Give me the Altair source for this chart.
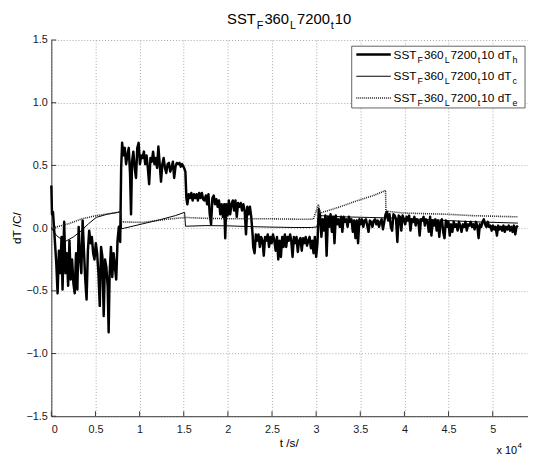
import altair as alt
import pandas as pd

# ---------------- data ----------------
# dT_h  (thick line)   t in seconds
H_T = [0, 75, 187, 336, 560, 709, 858, 1007, 1157, 1269,
       1455, 1604, 1754, 1903, 2052, 2201, 2351, 2500, 2649, 2798,
       2948, 3097, 3246, 3396, 3545, 3694, 3843, 3993, 4142, 4291,
       4440, 4590, 4739, 4888, 5037, 5187, 5336, 5485, 5634, 5784,
       5933, 6082, 6231, 6381, 6493, 6604, 6754, 6903, 7052, 7201,
       7351, 7500, 7649, 7799, 7910, 8022, 8172, 8321, 8470, 8619,
       8769, 8918, 9030, 9142, 9291, 9440, 9590, 9739, 9888, 10037,
       10187, 10336, 10485, 10634, 10784, 10933, 11082, 11231, 11381, 11530,
       11679, 11828, 11978, 12127, 12276, 12425, 12575, 12724, 12873, 13022,
       13172, 13321, 13470, 13619, 13769, 13918, 14067, 14216, 14366, 14515,
       14664, 14813, 15037, 15187, 15299, 15410, 15560, 15709, 15858, 16007,
       16157, 16306, 16455, 16604, 16754, 16903, 17052, 17201, 17351, 17500,
       17649, 17799, 17948, 18097, 18246, 18396, 18545, 18694, 18843, 18993,
       19142, 19291, 19440, 19590, 19701, 19813, 19963, 20112, 20261, 20410,
       20560, 20709, 20858, 21007, 21157, 21306, 21455, 21604, 21754, 21903,
       22052, 22201, 22351, 22500, 22649, 22799, 22873, 23022, 23172, 23321,
       23470, 23619, 23769, 23918, 24067, 24216, 24366, 24515, 24664, 24813,
       24963, 25112, 25261, 25410, 25560, 25709, 25858, 26007, 26157, 26306,
       26455, 26604, 26754, 26903, 27052, 27180, 27329, 27477, 27626, 27774,
       27922, 28071, 28219, 28368, 28516, 28664, 28813, 28961, 29110, 29258,
       29406, 29555, 29703, 29852, 30000, 30148, 30297, 30445, 30594, 30742,
       30890, 31039, 31187, 31336, 31484, 31632, 31781, 31929, 32078, 32226,
       32374, 32523, 32671, 32820, 32968, 33116, 33265, 33413, 33562, 33710,
       33858, 34007, 34155, 34304, 34452, 34600, 34749, 34897, 35046, 35194,
       35342, 35491, 35639, 35788, 35936, 36084, 36233, 36381, 36530, 36678,
       36826, 36975, 37123, 37272, 37420, 37568, 37717, 37865, 38014, 38162,
       38310, 38459, 38607, 38756, 38904, 39052, 39201, 39349, 39498, 39646,
       39794, 39943, 40091, 40240, 40388, 40536, 40685, 40833, 40982, 41130,
       41278, 41427, 41575, 41724, 41872, 42020, 42169, 42317, 42466, 42614,
       42762, 42911, 43059, 43208, 43356, 43504, 43653, 43801, 43950, 44098,
       44246, 44395, 44543, 44692, 44840, 44988, 45137, 45285, 45434, 45582,
       45730, 45879, 46027, 46176, 46324, 46472, 46621, 46769, 46918, 47066,
       47214, 47363, 47511, 47660, 47808, 47956, 48105, 48253, 48402, 48550,
       48698, 48847, 48995, 49144, 49292, 49440, 49589, 49737, 49886, 50034,
       50182, 50331, 50479, 50628, 50776, 50924, 51073, 51221, 51370, 51518,
       51666, 51815, 51963, 52112, 52260, 52408, 52557, 52705, 52854]
H_V = [0.34, 0.11, 0.13, -0.03, -0.28, -0.52, -0.18, -0.36, -0.07, -0.49,
       0.05, -0.36, -0.20, -0.46, -0.10, -0.41, -0.25, -0.44, -0.52, -0.20,
       -0.49, 0.01, -0.23, -0.36, 0.06, -0.18, -0.41, -0.57, -0.18, -0.02,
       -0.12, -0.07, -0.20, -0.25, -0.12, -0.20, -0.36, -0.62, -0.15, -0.23,
       -0.70, -0.25, -0.31, -0.46, -0.83, -0.36, -0.15, -0.39, -0.20, -0.31,
       -0.41, -0.10, 0.01, -0.11, 0.48, 0.68, 0.58, 0.64, 0.51, 0.58,
       0.64, 0.43, 0.11, 0.53, 0.61, 0.48, 0.40, 0.64, 0.68, 0.51,
       0.58, 0.56, 0.61, 0.51, 0.58, 0.48, 0.35, 0.56, 0.53, 0.61,
       0.51, 0.56, 0.48, 0.65, 0.51, 0.37, 0.51, 0.56, 0.48, 0.44,
       0.51, 0.52, 0.45, 0.48, 0.53, 0.40, 0.49, 0.52, 0.51, 0.52,
       0.49, 0.51, 0.48, 0.45, 0.24, 0.19, 0.27, 0.24, 0.28, 0.22,
       0.27, 0.24, 0.27, 0.22, 0.28, 0.24, 0.28, 0.23, 0.22, 0.26,
       0.19, 0.27, 0.11, 0.03, 0.24, 0.26, 0.19, 0.23, 0.17, 0.22,
       0.11, 0.19, 0.09, 0.19, -0.08, 0.19, 0.10, 0.22, 0.11, 0.19,
       0.22, 0.14, 0.22, 0.09, 0.20, 0.17, 0.20, 0.14, 0.19, 0.14,
       -0.05, 0.17, 0.11, 0.17, 0.09, -0.05, -0.15, -0.20, -0.05, -0.10,
       -0.05, -0.15, -0.07, -0.10, -0.22, -0.07, -0.10, -0.05, -0.15, -0.07,
       -0.12, -0.05, -0.10, -0.18, -0.07, -0.25, -0.10, -0.23, -0.07, -0.15,
       -0.05, -0.15, -0.07, -0.10, -0.05, -0.10, -0.23, -0.07, -0.12, -0.07,
       -0.19, -0.10, -0.08, -0.18, -0.08, -0.12, -0.07, -0.14, -0.10, -0.07,
       -0.16, -0.10, -0.20, -0.07, -0.23, -0.12, 0.15, 0.10, -0.07, 0.07,
       -0.02, 0.10, -0.22, 0.09, 0.01, 0.11, -0.03, 0.09, -0.12, 0.10,
       0.03, 0.07, 0.01, 0.09, -0.03, 0.09, 0.05, 0.07, 0.01, 0.09,
       0.05, 0.07, -0.03, 0.06, -0.08, 0.06, -0.12, 0.07, 0.03, 0.07,
       0.01, 0.06, 0.07, 0.02, -0.03, 0.06, 0.05, 0.01, 0.06, 0.07,
       0.03, 0.06, 0.01, 0.05, 0.07, -0.01, 0.05, 0.11, 0.13, 0.06,
       0.11, 0.01, -0.02, 0.11, 0.10, 0.07, -0.11, 0.10, 0.09, -0.02,
       0.10, 0.07, 0.03, 0.09, 0.06, 0.10, -0.02, 0.07, 0.05, 0.09,
       0.02, 0.07, 0.06, -0.06, 0.07, 0.06, 0.09, 0.02, 0.07, 0.05,
       -0.03, 0.09, -0.06, 0.06, 0.02, 0.07, -0.02, 0.06, -0.07, 0.05,
       0.07, -0.03, -0.08, 0.06, 0.01, 0.05, -0.06, 0.03, -0.03, 0.05,
       0.01, 0.03, -0.02, 0.05, 0.02, -0.03, 0.03, 0.01, 0.05, -0.02,
       0.03, 0.02, 0.05, 0.01, 0.03, -0.01, 0.05, 0.02, -0.08, 0.03,
       0.01, 0.05, 0.07, 0.03, 0.01, 0.05, 0.01, 0.02, -0.02, 0.02,
       -0.01, 0.01, -0.06, 0.02, -0.01, 0.01, -0.02, 0.02, -0.03, 0.01,
       -0.01, 0.02, -0.02, 0.01, -0.03, 0.02, -0.05, 0.01, 0.02]

# dT_c (thin solid line)
C_T = [0, 600, 1500, 2500, 3250, 4200, 5100, 6300, 7550, 7850,
       7950, 8300, 10336, 12200, 14067, 15100, 15200, 17500, 20000, 22500,
       25000, 27500, 29500, 30100, 30300, 33000, 36000, 39000, 42000, 45000,
       48000, 50500, 52854]
C_V = [0.0, -0.06, -0.11, -0.07, -0.03, 0.034, 0.086, 0.11, 0.126, 0.13,
       -0.005, 0.0, 0.034, 0.065, 0.10, 0.126, 0.015, 0.02, 0.018, 0.012,
       0.008, 0.005, 0.005, 0.01, 0.10, 0.09, 0.085, 0.08, 0.07, 0.06,
       0.05, 0.045, 0.04]

# dT_e (dotted line)
E_T = [0, 1970, 3460, 5130, 6500, 7550, 7850, 7950, 10300, 13000,
       15200, 17500, 20000, 22500, 25000, 27000, 29000, 29700, 30250, 30450,
       32500, 34500, 36500, 37865, 37900, 40000, 42500, 45000, 47500, 50000,
       52854]
E_V = [0.0, 0.035, 0.074, 0.10, 0.115, 0.126, 0.13, 0.05, 0.045, 0.07,
       0.085, 0.078, 0.075, 0.074, 0.074, 0.072, 0.07, 0.073, 0.19, 0.12,
       0.165, 0.215, 0.26, 0.30, 0.135, 0.12, 0.115, 0.11, 0.10, 0.095,
       0.09]

X_TICKS = [0, 5000, 10000, 15000, 20000, 25000, 30000, 35000, 40000, 45000, 50000]
Y_TICKS = [-1.5, -1.0, -0.5, 0.0, 0.5, 1.0, 1.5]

TITLE_PIECES = [("SST", 0), ("F", 1), ("360", 0), ("L", 1), ("7200", 0), ("t", 1), ("10", 0)]
LEGEND_SUBS = ["h", "c", "e"]
X_TITLE = "t /s/"
Y_TITLE = "dT /C/"

# ---------------- layout / style ----------------
FONT = "Liberation Sans"
W, H = 484, 382
X_MAX = 54000
AXC = "#3a3a3a"

ARIAL = {'S': .667, 'T': .611, 'F': .611, 'L': .556, ' ': .278, 'd': .556,
         'h': .556, 'c': .5, 'e': .556, 't': .278, 'x': .5}
for _d in "0123456789":
    ARIAL[_d] = .556


def tw(s, size):
    return sum(ARIAL.get(ch, .556) for ch in s) * size


one = pd.DataFrame({"k": [0]})
xs = alt.Scale(domain=[0, X_MAX], nice=False, zero=False)
ys = alt.Scale(domain=[-1.5, 1.5], nice=False, zero=False)

x_axis = alt.Axis(values=X_TICKS, labelExpr="'' + datum.value / 10000", grid=True,
                  gridDash=[1, 2], gridColor="#a8a8a8", gridWidth=1,
                  domainColor=AXC, ticks=False, labelFont=FONT, labelFontSize=11,
                  labelColor="#1a1a1a", labelPadding=8, title=None)
y_axis = alt.Axis(values=Y_TICKS, grid=True, gridDash=[1, 2], gridColor="#a8a8a8",
                  gridWidth=1, domainColor=AXC, ticks=False, labelFont=FONT,
                  labelFontSize=11, labelColor="#1a1a1a", labelPadding=4, title=None)

dfh = pd.DataFrame({"t": H_T, "v": H_V})
dfc = pd.DataFrame({"t": C_T, "v": C_V})
dfe = pd.DataFrame({"t": E_T, "v": E_V})

layers = []
layers.append(alt.Chart(dfh).mark_line(color="black", strokeWidth=2.5, strokeJoin="round").encode(
    x=alt.X("t:Q", scale=xs, axis=x_axis), y=alt.Y("v:Q", scale=ys, axis=y_axis)))
layers.append(alt.Chart(dfc).mark_line(color="black", strokeWidth=1).encode(
    x=alt.X("t:Q", scale=xs), y=alt.Y("v:Q", scale=ys)))
layers.append(alt.Chart(dfe).mark_line(color="#222222", strokeWidth=1.6, strokeDash=[1, 1]).encode(
    x=alt.X("t:Q", scale=xs), y=alt.Y("v:Q", scale=ys)))

# inward ticks (MATLAB style)
layers.append(alt.Chart(pd.DataFrame({"t": X_TICKS})).mark_rule(color=AXC, strokeWidth=1).encode(
    x=alt.X("t:Q", scale=xs), y=alt.value(H), y2=alt.value(H - 5)))
layers.append(alt.Chart(pd.DataFrame({"v": Y_TICKS})).mark_rule(color=AXC, strokeWidth=1).encode(
    y=alt.Y("v:Q", scale=ys), x=alt.value(0), x2=alt.value(5)))


def text_layer(txt, px, py, size, **kw):
    return alt.Chart(one).mark_text(text=txt, font=FONT, fontSize=size, color="black",
                                    align=kw.get("align", "left"),
                                    baseline=kw.get("baseline", "alphabetic"),
                                    angle=kw.get("angle", 0)).encode(
        x=alt.value(px), y=alt.value(py))


def pieces_layers(pieces, x0, ybase, main, sub, gap):
    out = []
    cx = x0
    for s, is_sub in pieces:
        if is_sub:
            cx += gap
            out.append(text_layer(s, cx, ybase + 5 * main / 15, sub))
            cx += tw(s, sub) + gap
        else:
            out.append(text_layer(s, cx, ybase, main))
            cx += tw(s, main)
    return out


# title
TM, TS = 15, 11
total = sum(tw(s, TS) + 2 if b else tw(s, TM) for s, b in TITLE_PIECES)
layers += pieces_layers(TITLE_PIECES, 241.5 - total / 2, -16.5, TM, TS, 1)

# legend box
LX0, LX1, LY0, LY1 = 305, 481, 6.3, 69
layers.append(alt.Chart(one).mark_rect(fill="white", stroke=AXC, strokeWidth=0.8).encode(
    x=alt.value(LX0), x2=alt.value(LX1), y=alt.value(LY0), y2=alt.value(LY1)))
styles = [dict(color="black", strokeWidth=2.5),
          dict(color="black", strokeWidth=1),
          dict(color="#222222", strokeWidth=1.6, strokeDash=[1, 1])]
for i, sub in enumerate(LEGEND_SUBS):
    yc = 14.7 + 22.1 * i
    layers.append(alt.Chart(one).mark_rule(**styles[i]).encode(
        x=alt.value(309.7), x2=alt.value(344.7), y=alt.value(yc)))
    pcs = TITLE_PIECES[:-1] + [("10 dT", 0), (sub, 1)]
    layers += pieces_layers(pcs, 347.5, yc + 4.3, 12, 9, 1)

# axis titles and exponent
layers.append(text_layer(X_TITLE, 241.5, 413, 12, align="center"))
layers.append(text_layer(Y_TITLE, -35, 191, 12, align="center", baseline="middle", angle=270))
layers.append(text_layer("x 10", 452, 420, 11))
layers.append(text_layer("4", 452 + tw("x 10", 11) + 0.5, 414, 8))

chart = alt.layer(*layers).properties(
    width=W, height=H,
    autosize=alt.AutoSizeParams(type="none"),
    padding={"left": 44, "top": 29, "right": 0, "bottom": 44},
    background="white",
).configure_view(stroke=None)

chart.save("out.html", embed_options={"renderer": "svg", "actions": False})
